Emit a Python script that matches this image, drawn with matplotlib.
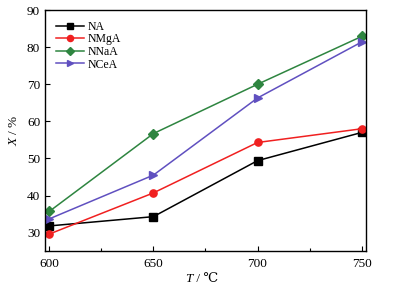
import matplotlib.pyplot as plt
from matplotlib.ticker import MultipleLocator

plt.rcParams['font.family'] = ['Liberation Serif', 'DejaVu Serif']
plt.rcParams['mathtext.fontset'] = 'custom'
plt.rcParams['mathtext.it'] = 'Liberation Serif:italic'
plt.rcParams['mathtext.rm'] = 'Liberation Serif'

temps = [600, 650, 700, 750]
na = [31.8, 34.3, 49.4, 57.0]
nmga = [29.6, 40.7, 54.3, 58.0]
nnaa = [35.7, 56.7, 70.0, 82.9]
ncea = [33.7, 45.5, 66.3, 81.4]

series = [
    ("NA", na, "black", "s"),
    ("NMgA", nmga, "#f02020", "o"),
    ("NNaA", nnaa, "#2e8540", "D"),
    ("NCeA", ncea, "#6050c0", ">"),
]

fig = plt.figure(figsize=(4.06, 2.89), dpi=100)
ax = fig.add_axes([0.111, 0.131, 0.790, 0.834])

for name, vals, color, marker in series:
    ax.plot(temps, vals, color=color, marker=marker, markersize=5.2,
            linewidth=1.1, label=name)

ax.set_xlim(598, 752)
ax.set_ylim(25, 90)
ax.set_xticks(temps)
ax.xaxis.set_minor_locator(MultipleLocator(25))
ax.set_yticks([30, 40, 50, 60, 70, 80, 90])
ax.tick_params(direction='in', labelsize=9.5, length=3.5, width=0.8)
ax.tick_params(which='minor', direction='in', length=2.5, width=0.8)
ax.tick_params(axis='x', pad=5)
for s in ax.spines.values():
    s.set_linewidth(1.0)

# x 轴标签：斜体 T 单独画，℃ 走字体回退
xl = ax.set_xlabel(" / ℃", fontsize=9.5, labelpad=2)
ax.annotate("T", xy=(0, 0.5), xycoords=xl, ha='right', va='center',
            fontsize=9.5, fontstyle='italic')
ax.set_ylabel(r"$X$ / %", fontsize=9.5, labelpad=5)

ax.legend(loc='upper left', frameon=False, fontsize=8.5, handlelength=2.4,
          labelspacing=0.05, borderaxespad=0.5, handletextpad=0.3,
          markerscale=0.85)

fig.savefig("out.png", dpi=100)
